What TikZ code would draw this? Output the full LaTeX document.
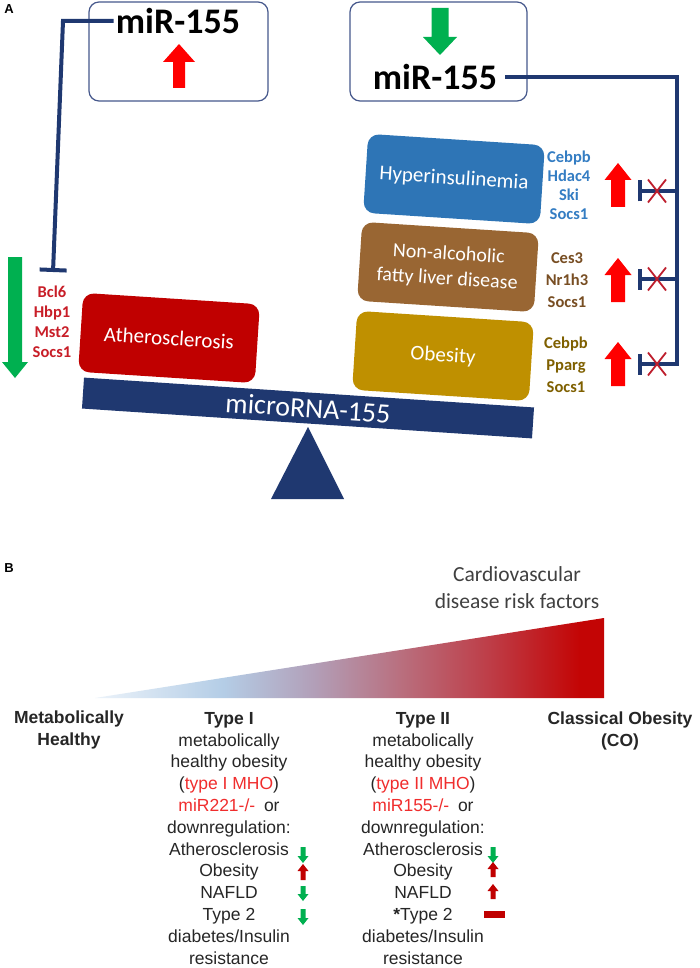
\documentclass[tikz,border=0pt]{standalone}
\usepackage{fontspec}
\setmainfont{Carlito}
\newfontfamily\arialfont{Liberation Sans}
\usetikzlibrary{arrows.meta}
\definecolor{navy}{RGB}{31,56,112}
\definecolor{boxEdge}{RGB}{70,88,140}
\definecolor{atheroRed}{RGB}{192,0,0}
\definecolor{hyperBlue}{RGB}{46,117,182}
\definecolor{nafldBrown}{RGB}{153,102,51}
\definecolor{obesGold}{RGB}{191,144,0}
\definecolor{geneRed}{RGB}{200,30,40}
\definecolor{geneBlue}{RGB}{52,125,195}
\definecolor{geneBrown}{RGB}{120,78,35}
\definecolor{geneOlive}{RGB}{127,96,0}
\definecolor{arrowRed}{RGB}{255,0,0}
\definecolor{arrowGreen}{RGB}{0,176,80}
\definecolor{darkRed}{RGB}{192,0,0}
\definecolor{crossRed}{RGB}{190,30,45}
\definecolor{txtRed}{RGB}{240,45,45}
\definecolor{txtGrey}{RGB}{38,38,38}
\definecolor{riskGrey}{RGB}{64,64,64}
\definecolor{riskA}{RGB}{236,243,250}
\definecolor{riskB}{RGB}{180,205,230}
\definecolor{riskC}{RGB}{178,160,185}
\definecolor{riskD}{RGB}{185,110,125}
\definecolor{riskE}{RGB}{190,60,70}
\definecolor{riskF}{RGB}{195,5,5}
\pgfdeclarehorizontalshading{riskshade}{100bp}{color(0bp)=(riskA); color(25bp)=(riskA); color(37.6bp)=(riskB); color(46.3bp)=(riskC); color(55.2bp)=(riskD); color(63.9bp)=(riskE); color(72.6bp)=(riskF); color(100bp)=(riskF)}
% block arrow: colour, x, tail y, head base y, tip y, half head, half shaft
\newcommand\BlockArrow[7]{\fill[#1] ({#2-#7},{#3}) -- ({#2-#7},{#4}) -- ({#2-#6},{#4}) -- ({#2},{#5}) -- ({#2+#6},{#4}) -- ({#2+#7},{#4}) -- ({#2+#7},{#3}) -- cycle;}
\tikzset{
  mirBox/.style={draw=boxEdge, line width=1.2pt, rounded corners=10pt},
  mirLabel/.style={font=\fontsize{36}{40}\selectfont\bfseries, inner sep=2pt},
  balanceBox/.style={rounded corners=11pt, minimum width=177pt, minimum height=79pt, rotate=-3.7, text=white, font=\fontsize{21}{25}\selectfont, align=center, inner sep=0pt},
  geneLabel/.style={font=\fontsize{16.5}{19}\selectfont\bfseries, text height=12pt, text depth=2pt, inner sep=0pt},
  navyLine/.style={draw=navy, line width=4pt},
  inhibit/.style={navyLine, -{Bar[width=21pt]}},
  crossMark/.style={draw=crossRed, line width=1.8pt},
  panelLabel/.style={font=\arialfont\bfseries\fontsize{13}{15}\selectfont, inner sep=0pt},
  colText/.style={font=\arialfont\fontsize{17.5}{21.8}\selectfont, text=txtGrey, align=center, anchor=north, inner sep=0pt},
  colHead/.style={colText, font=\arialfont\bfseries\fontsize{17.5}{21.8}\selectfont},
}
\begin{document}
\begin{tikzpicture}[x=1pt,y=-1pt]
\fill[white] (0,0) rectangle (700,968);
\useasboundingbox (0,0) rectangle (700,968);
% Panel A: miR-155 boxes
\node[panelLabel] (labA) at (9,9) {A};
\draw[mirBox] (89,2) rectangle (268,101);
\node[mirLabel] (miRup) at (178,21) {miR-155};
\BlockArrow{arrowRed}{179}{88}{62}{44}{16}{6}
\draw[mirBox] (350,2) rectangle (527,101);
\node[mirLabel] (miRdn) at (435,77) {miR-155};
\BlockArrow{arrowGreen}{440}{8}{37}{55}{17}{8.5}
% Panel A: diseases on the balance
\node[balanceBox, fill=atheroRed] (athero) at (169,338) {Atherosclerosis};
\node[balanceBox, fill=hyperBlue] (hyper) at (454,179) {Hyperinsulinemia};
\node[balanceBox, fill=nafldBrown, font=\fontsize{20}{25}\selectfont] (nafld) at (448,267) {Non-alcoholic\\fatty liver disease};
\node[balanceBox, fill=obesGold] (obes) at (443,356) {Obesity};
\node[fill=navy, minimum width=451pt, minimum height=31pt, rotate=-3.8, text=white, font=\fontsize{28}{30}\selectfont, inner sep=0pt] (beam) at (308,408) {microRNA-155};
\fill[navy] (308,427) -- (344,499) -- (271,499) -- cycle;
% Panel A: target genes
\foreach \g [count=\i] in {Bcl6,Hbp1,Mst2,Socs1}
  \node[geneLabel, text=geneRed] (athG\i) at (52,{272+20*\i}) {\g};
\foreach \g [count=\i] in {Cebpb,Hdac4,Ski,Socs1}
  \node[geneLabel, text=geneBlue] (hypG\i) at (569,{139+19*\i}) {\g};
\foreach \g [count=\i] in {Ces3,Nr1h3,Socs1}
  \node[geneLabel, text=geneBrown] (nafG\i) at (567,{236+22*\i}) {\g};
\foreach \g [count=\i] in {Cebpb,Pparg,Socs1}
  \node[geneLabel, text=geneOlive] (obeG\i) at (566,{321+22*\i}) {\g};
\BlockArrow{arrowGreen}{15}{257}{362}{378}{13}{7}
\foreach \t in {163,258,342}
  \BlockArrow{arrowRed}{618}{\t+44}{\t+17}{\t}{13.5}{7}
% Panel A: inhibition lines
\coordinate (elbowL) at (63,21);
\coordinate (inhL) at (53,272);
\draw[navyLine, -{Bar[width=27pt]}] (miRup.west) -- (elbowL) -- (inhL);
\coordinate (bus1) at (677,191); \coordinate (stop1) at (638,191);
\coordinate (bus2) at (677,279); \coordinate (stop2) at (638,279);
\coordinate (bus3) at (677,364); \coordinate (stop3) at (638,364);
\draw[inhibit, shorten <=6pt] (miRdn.east) -| (bus3) -- (stop3);
\foreach \k in {1,2}
  \draw[inhibit] (bus\k) -- (stop\k);
\foreach \yy in {191,279,364}
  \draw[crossMark] (648,\yy-11.5) -- (666,\yy+11.5) (648,\yy+11.5) -- (666,\yy-11.5);
% Panel B: risk wedge
\node[panelLabel] (labB) at (9,568) {B};
\shade[shading=riskshade] (95,698) -- (604,618) -- (604,698) -- cycle;
\node[font=\fontsize{21.5}{27}\selectfont, text=riskGrey, align=center] (risk) at (517,588) {Cardiovascular\\disease risk factors};
% Panel B: columns
\node[colHead] (healthy) at (69,711) {Metabolically\\Healthy};
\node[colText] (typeI) at (229,712) {\textbf{Type I}\\metabolically\\healthy obesity\\(\textcolor{txtRed}{type I MHO})\\\textcolor{txtRed}{miR221-/-}\enspace or\\downregulation:\\Atherosclerosis\\Obesity\\NAFLD\\Type 2\\diabetes/Insulin\\resistance};
\node[colText] (typeII) at (423,712) {\textbf{Type II}\\metabolically\\healthy obesity\\(\textcolor{txtRed}{type II MHO})\\\textcolor{txtRed}{miR155-/-}\enspace or\\downregulation:\\Atherosclerosis\\Obesity\\NAFLD\\\textbf{*}Type 2\\diabetes/Insulin\\resistance};
\node[colHead] (classic) at (620,712) {Classical Obesity\\(CO)};
% Panel B: effect arrows
\BlockArrow{arrowGreen}{303}{847}{856}{863}{5.5}{2.5}
\BlockArrow{darkRed}{303}{880}{871}{864}{5.5}{2.5}
\BlockArrow{arrowGreen}{303}{886}{894}{901}{5.5}{2.5}
\BlockArrow{arrowGreen}{303}{909}{918}{925}{5.5}{2.5}
\BlockArrow{arrowGreen}{493}{847}{856}{863}{5.5}{2.5}
\BlockArrow{darkRed}{493}{877}{869}{862}{5.5}{2.5}
\BlockArrow{darkRed}{493}{899}{891}{884}{5.5}{2.5}
\fill[darkRed] (484,911) rectangle (505,918);
\end{tikzpicture}
\end{document}
